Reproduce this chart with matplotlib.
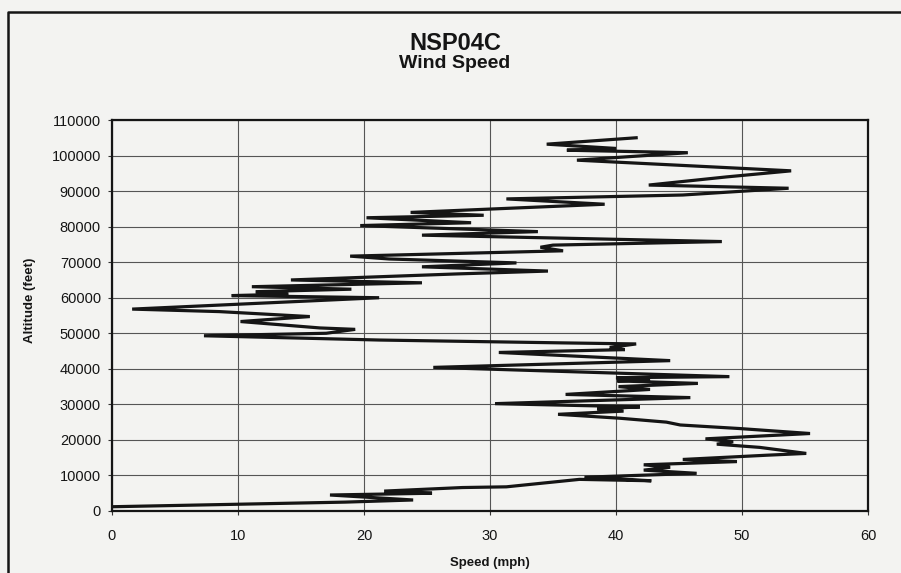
import matplotlib
matplotlib.use("Agg")
import matplotlib.pyplot as plt
from matplotlib.lines import Line2D

# Wind speed profile (speed in mph, altitude in feet)
speed_mph = [0.0, 18.5, 23.9, 17.3, 25.4, 21.6, 27.8, 31.3, 37.1, 42.8, 37.5,
             46.4, 42.2, 44.3, 42.2, 49.6, 45.3, 52.0, 55.1, 51.4, 48.0, 49.3,
             47.1, 55.4, 49.8, 45.1, 44.0, 40.3, 35.4, 40.6, 38.5, 41.9, 30.4,
             45.9, 36.0, 42.7, 40.2, 46.5, 40.1, 42.7, 40.0, 49.0, 25.5, 44.3,
             30.7, 40.7, 39.5, 41.6, 35.7, 21.2, 7.3, 17.0, 19.3, 16.5, 10.2,
             15.7, 8.5, 1.6, 21.2, 9.5, 14.0, 11.4, 19.0, 11.1, 24.6, 14.2,
             27.4, 34.6, 24.6, 32.1, 22.0, 18.9, 35.8, 34.0, 35.0, 48.4, 24.6,
             33.8, 19.7, 28.5, 20.2, 29.5, 23.7, 39.1, 31.3, 45.3, 53.7, 42.6,
             48.8, 53.9, 36.9, 45.7, 36.1, 40.0, 34.5, 41.6]
altitude_ft = [1200, 2500, 3100, 4500, 5000, 5600, 6600, 6800, 8900, 8500, 9500,
               10600, 11500, 12300, 13000, 13900, 14500, 15700, 16200, 17900, 18800, 19500,
               20300, 21800, 23200, 24200, 25000, 26100, 27200, 28100, 28700, 29300, 30200,
               31900, 32800, 34200, 35000, 35900, 36600, 37000, 37500, 37800, 40400, 42300,
               44600, 45400, 46000, 47000, 47300, 48100, 49300, 50000, 51100, 51500, 53300,
               54700, 56100, 56800, 60000, 60600, 61000, 61700, 62400, 63100, 64200, 65000,
               66700, 67500, 68700, 69800, 70900, 71700, 73200, 74200, 74800, 75800, 77600,
               78600, 80300, 81100, 82500, 83200, 84000, 86300, 87800, 88900, 90800, 91700,
               94000, 95700, 98700, 100800, 101500, 102000, 103200, 105000]

x_ticks = [0, 10, 20, 30, 40, 50, 60]
y_ticks = list(range(0, 110001, 10000))

title_main = "NSP04C"
title_sub = "Wind Speed"
x_label = "Speed (mph)"
y_label = "Altitude (feet)"

fam = ["Liberation Sans", "DejaVu Sans"]
bg = "#f3f3f1"
ink = "#151515"

fig = plt.figure(figsize=(9.01, 5.73), dpi=100, facecolor=bg)
W, H = 901, 573

# outer chart border (only top and left edges fall inside the picture)
fig.add_artist(Line2D([8 / W, 8 / W, 1.0], [0.0, 1 - 12 / H, 1 - 12 / H],
                      transform=fig.transFigure, color=ink, linewidth=1.8))

ax = fig.add_axes([112 / W, 1 - 511 / H, (868 - 112) / W, (511 - 120) / H])
ax.set_facecolor(bg)
ax.plot(speed_mph, altitude_ft, color=ink, linewidth=2.3, solid_joinstyle="miter")

ax.set_xlim(0, 60)
ax.set_ylim(0, 110000)
ax.set_xticks(x_ticks)
ax.set_yticks(y_ticks)
ax.set_xticklabels([str(v) for v in x_ticks], fontsize=10.5, family=fam, color=ink)
ax.set_yticklabels([str(v) for v in y_ticks], fontsize=10.5, family=fam, color=ink)
ax.tick_params(direction="out", length=3, width=0.8, colors="#333333")
ax.tick_params(axis="x", pad=10, labelcolor=ink)
ax.tick_params(axis="y", pad=5, labelcolor=ink)
ax.grid(True, color="#555555", linewidth=0.8)
ax.set_axisbelow(True)
for s in ax.spines.values():
    s.set_linewidth(1.6)
    s.set_color(ink)

ax.set_xlabel(x_label, fontsize=9.5, fontweight="bold", family=fam, color=ink)
ax.xaxis.set_label_coords(0.5, -(563 - 511) / (511 - 120), transform=ax.transAxes)
ax.xaxis.label.set_va("center")
ax.set_ylabel(y_label, fontsize=9.5, fontweight="bold", family=fam, color=ink)
ax.yaxis.set_label_coords(-(112 - 30) / (868 - 112), (511 - 300) / (511 - 120),
                          transform=ax.transAxes)
ax.yaxis.label.set_va("center")

fig.text(455 / W, 1 - 43 / H, title_main, ha="center", va="center",
         fontsize=17, fontweight="bold", family=fam, color=ink)
fig.text(455 / W, 1 - 63 / H, title_sub, ha="center", va="center",
         fontsize=14, fontweight="bold", family=fam, color=ink)

fig.savefig("out.png", dpi=100, facecolor=bg)
